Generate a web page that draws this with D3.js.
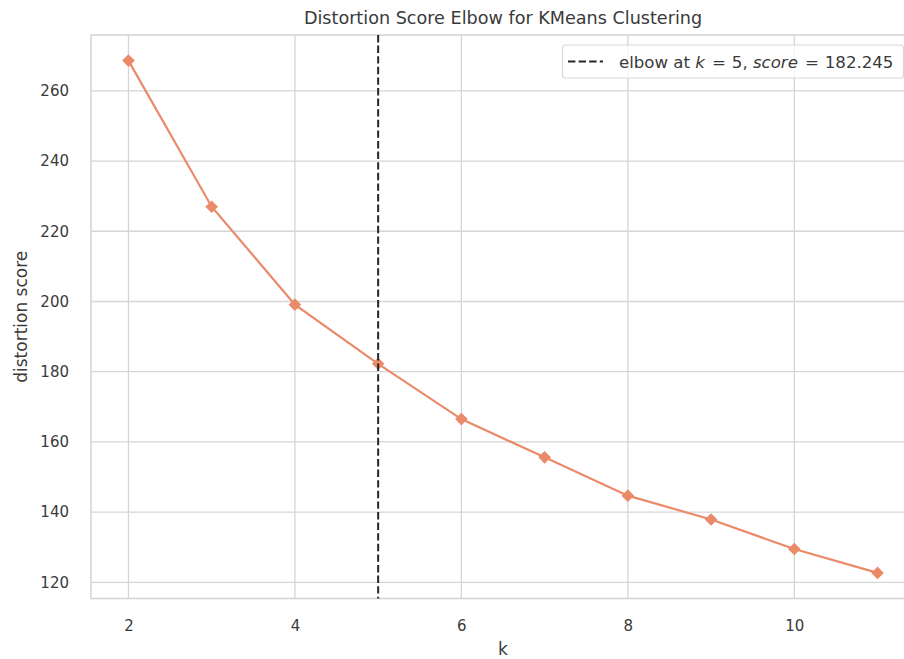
<!DOCTYPE html>
<html>
<head>
<meta charset="utf-8">
<script src="https://cdn.jsdelivr.net/npm/d3@7"></script>
<style>
  html, body { margin: 0; padding: 0; background: #ffffff; }
  svg { display: block; font-family: "DejaVu Sans", sans-serif; }
</style>
</head>
<body>
<svg id="chart" width="904" height="659"></svg>
<script>
// Number of clusters tried and the distortion score for each
const kValues = [2, 3, 4, 5, 6, 7, 8, 9, 10, 11];
const scores = [268.6, 227.0, 199.1, 182.245, 166.5, 155.6, 144.7, 137.9, 129.5, 122.7];
const xTicks = [2, 4, 6, 8, 10];
const yTicks = [120, 140, 160, 180, 200, 220, 240, 260];
const elbowK = 5;
const elbowScore = 182.245;

const width = 904, height = 659;
const plot = { left: 91, right: 915, top: 35, bottom: 598.5 };

const lineColor = "#ea8a69";
const gridColor = "#d5d5d5";
const textColor = "#3a3a3a";

const svg = d3.select("#chart");

// 5% padding around the data range on both axes
const xMin = d3.min(kValues), xMax = d3.max(kValues);
const xPad = (xMax - xMin) * 0.05;
const yMin = d3.min(scores), yMax = d3.max(scores);
const yPad = (yMax - yMin) * 0.05;

const x = d3.scaleLinear().domain([xMin - xPad, xMax + xPad]).range([plot.left, plot.right]);
const y = d3.scaleLinear().domain([yMin - yPad, yMax + yPad]).range([plot.bottom, plot.top]);

// Gridlines
const grid = svg.append("g");
grid.selectAll(".gx").data(xTicks).join("line")
  .attr("x1", d => x(d)).attr("x2", d => x(d))
  .attr("y1", plot.top).attr("y2", plot.bottom)
  .attr("stroke", gridColor).attr("stroke-width", 1.3);
grid.selectAll(".gy").data(yTicks).join("line")
  .attr("x1", plot.left).attr("x2", plot.right)
  .attr("y1", d => y(d)).attr("y2", d => y(d))
  .attr("stroke", gridColor).attr("stroke-width", 1.3);

// Axes frame
svg.append("rect")
  .attr("x", plot.left).attr("y", plot.top)
  .attr("width", plot.right - plot.left).attr("height", plot.bottom - plot.top)
  .attr("fill", "none").attr("stroke", gridColor).attr("stroke-width", 1.6);

// Tick labels via d3 axes (no tick marks, no domain line)
const xAxis = svg.append("g")
  .attr("transform", `translate(0,${plot.bottom})`)
  .call(d3.axisBottom(x).tickValues(xTicks).tickSize(0).tickPadding(22).tickFormat(d3.format("d")));
const yAxis = svg.append("g")
  .attr("transform", `translate(${plot.left},0)`)
  .call(d3.axisLeft(y).tickValues(yTicks).tickSize(0).tickPadding(22).tickFormat(d3.format("d")));
[xAxis, yAxis].forEach(a => {
  a.select(".domain").remove();
  a.selectAll("text")
    .attr("fill", textColor)
    .style("font-family", "DejaVu Sans, sans-serif")
    .style("font-size", "15px");
});

// Score curve with diamond markers
const pts = kValues.map((k, i) => [k, scores[i]]);
svg.append("path")
  .datum(pts)
  .attr("fill", "none")
  .attr("stroke", lineColor)
  .attr("stroke-width", 2.2)
  .attr("d", d3.line().x(d => x(d[0])).y(d => y(d[1])));

svg.append("g").selectAll("path")
  .data(pts)
  .join("path")
  .attr("transform", d => `translate(${x(d[0])},${y(d[1])})`)
  .attr("d", "M0,-6.3L6.3,0L0,6.3L-6.3,0Z")
  .attr("fill", lineColor);

// Elbow marker line
svg.append("line")
  .attr("x1", x(elbowK)).attr("x2", x(elbowK))
  .attr("y1", plot.top).attr("y2", plot.bottom)
  .attr("stroke", "#262626").attr("stroke-width", 2)
  .attr("stroke-dasharray", "7.4,3.2");

// Legend
const lg = svg.append("g");
lg.append("rect")
  .attr("x", 562.5).attr("y", 45).attr("width", 341).attr("height", 33)
  .attr("rx", 3)
  .attr("fill", "rgba(255,255,255,0.8)")
  .attr("stroke", "#d8d8d8").attr("stroke-width", 1.2);
lg.append("line")
  .attr("x1", 568).attr("x2", 603).attr("y1", 61.5).attr("y2", 61.5)
  .attr("stroke", "#262626").attr("stroke-width", 2)
  .attr("stroke-dasharray", "7.4,3.2");
const lt = lg.append("text")
  .attr("x", 619).attr("y", 67.5)
  .attr("fill", textColor)
  .style("font-size", "16.6px");
lt.append("tspan").text("elbow at ");
lt.append("tspan").style("font-style", "italic").text("k");
lt.append("tspan").attr("dx", 7).text("=");
lt.append("tspan").attr("dx", 6).text(elbowK + ", ");
lt.append("tspan").style("font-style", "italic").text("score");
lt.append("tspan").attr("dx", 7).text("=");
lt.append("tspan").attr("dx", 6).text(elbowScore);

// Title and axis labels
svg.append("text")
  .attr("x", (plot.left + plot.right) / 2).attr("y", 24)
  .attr("text-anchor", "middle").attr("fill", textColor)
  .style("font-size", "17.6px")
  .text("Distortion Score Elbow for KMeans Clustering");

svg.append("text")
  .attr("x", (plot.left + plot.right) / 2).attr("y", 654.5)
  .attr("text-anchor", "middle").attr("fill", textColor)
  .style("font-size", "17px")
  .text("k");

svg.append("text")
  .attr("transform", `translate(26.5,${(plot.top + plot.bottom) / 2}) rotate(-90)`)
  .attr("text-anchor", "middle").attr("fill", textColor)
  .style("font-size", "17px")
  .text("distortion score");
</script>
</body>
</html>
